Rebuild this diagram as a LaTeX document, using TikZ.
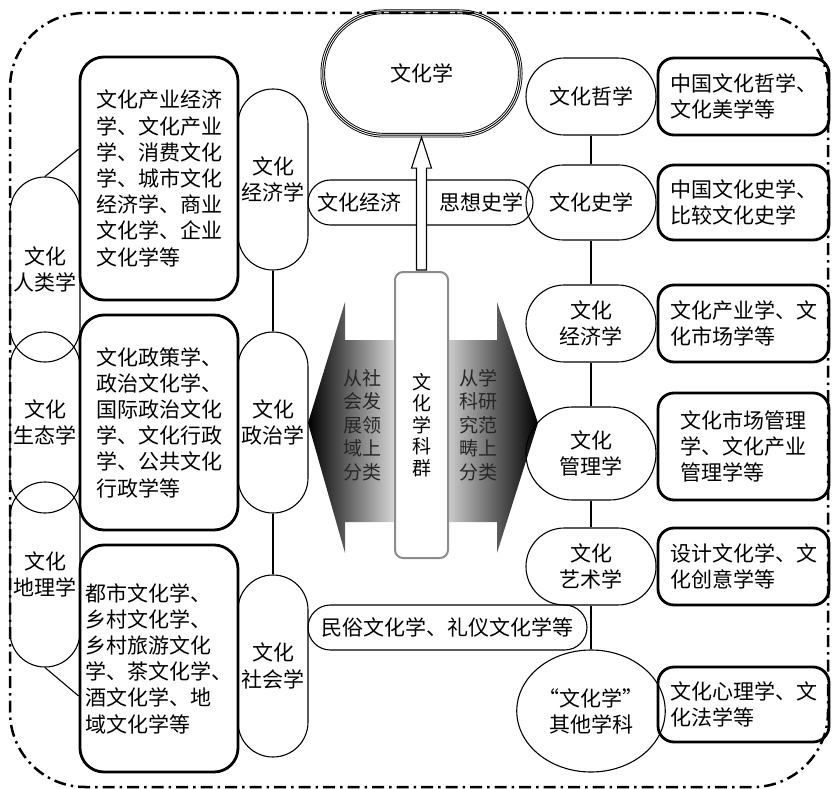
\documentclass[tikz,border=0pt]{standalone}
\usepackage{fontspec}
\newfontfamily\cjk{Noto Sans CJK SC}
\usetikzlibrary{shapes.geometric,calc}
\begin{document}
\begin{tikzpicture}[x=1pt,y=-1pt,
  every node/.style={font=\cjk\fontsize{21}{26.2}\selectfont, inner sep=0pt},
  bigbox/.style={draw, line width=2.8pt, rounded corners=24pt, align=left},
  rbox/.style={draw, line width=2.8pt, rounded corners=16pt, align=left, minimum width=171pt},
  pill/.style={draw, line width=1.1pt, align=center},
  conn/.style={line width=1.1pt},
  ]
\useasboundingbox (0,0) rectangle (833,789);

% gradient arrows
\shade[left color=black, right color=black!15]
  (395,340) -- (345,340) -- (345,302) -- (308,423) -- (345,553) -- (345,522) -- (395,522) -- cycle;
\shade[left color=black!20, right color=black]
  (448,340) -- (497,340) -- (497,302) -- (538,423) -- (497,553) -- (497,522) -- (448,522) -- cycle;

% top node
\node[minimum width=197pt, minimum height=123pt] (wh) at (421.5,73.5) {文化学};
\draw[line width=4.6pt, rounded corners=61pt] (wh.north west) rectangle (wh.south east);
\draw[line width=2.8pt, white, rounded corners=61pt] (wh.north west) rectangle (wh.south east);
\draw[line width=0.9pt, rounded corners=61pt] (wh.north west) rectangle (wh.south east);

% left column
\node[pill, minimum width=70pt, minimum height=181pt, rounded corners=34.9pt] (ljj) at (273,179.5) {文化\\经济学};
\node[pill, minimum width=70pt, minimum height=181pt, rounded corners=34.9pt] (lzz) at (273,422.5) {文化\\政治学};
\node[pill, minimum width=70pt, minimum height=182pt, rounded corners=34.9pt] (lsh) at (273,666) {文化\\社会学};
\draw[conn] (ljj.south) -- (lzz.north);
\draw[conn] (lzz.south) -- (lsh.north);

% far left
\node[pill, minimum width=70pt, minimum height=185pt, rounded corners=34.9pt] (frl) at (45,269.5) {文化\\人类学};
\node[pill, minimum width=70pt, minimum height=181pt, rounded corners=34.9pt] (fst) at (45,422.5) {文化\\生态学};
\node[pill, minimum width=70pt, minimum height=185pt, rounded corners=34.9pt] (fdl) at (45,574.5) {文化\\地理学};

% left boxes
\node[bigbox, minimum width=158pt, minimum height=243pt] (lb1) at (159,178.5)
  {文化产业经济\\学、文化产业\\学、消费文化\\学、城市文化\\经济学、商业\\文化学、企业\\文化学等};
\node[bigbox, minimum width=158pt, minimum height=215pt] (lb2) at (159,422.5)
  {文化政策学、\\政治文化学、\\国际政治文化\\学、文化行政\\学、公共文化\\行政学等};
\node[bigbox, minimum width=158pt, minimum height=227pt] (lb3) at (159,658.5)
  {都市文化学、\\乡村文化学、\\乡村旅游文化\\学、茶文化学、\\酒文化学、地\\域文化学等};

\draw[conn] (frl.north) -- (lb1.160);
\draw[conn] (fdl.south) -- (lb3.205);

% horizontal pills
\node[pill, minimum width=225pt, minimum height=45pt, rounded corners=22.4pt] (sx) at (420.5,202.5) {文化经济\hspace{39pt}思想史学};
\node[pill, minimum width=279pt, minimum height=45pt, rounded corners=22.4pt] (ms) at (447.5,627.5) {民俗文化学、礼仪文化学等};

% right column
\node[pill, minimum width=130pt, minimum height=77pt, rounded corners=38.4pt] (rzx) at (591,96.5) {文化哲学};
\node[pill, minimum width=130pt, minimum height=75pt, rounded corners=37.4pt] (rsx) at (591,202.5) {文化史学};
\node[pill, minimum width=130pt, minimum height=77pt, rounded corners=38.4pt] (rjj) at (591,323.5) {文化\\经济学};
\node[pill, minimum width=130pt, minimum height=93pt, rounded corners=46.4pt] (rgl) at (591,453.5) {文化\\管理学};
\node[pill, minimum width=130pt, minimum height=77pt, rounded corners=38.4pt] (rys) at (591,566.5) {文化\\艺术学};
\node[pill, ellipse, minimum width=130pt, minimum height=122pt] (rqt) at (591,711) {“文化学”\\其他学科};

\draw[conn] (rzx.south) -- (rsx.north);
\draw[conn] (rsx.south) -- (rjj.north);
\draw[conn] (rjj.south) -- (rgl.north);
\draw[conn] (rgl.south) -- (rys.north);
\draw[conn] (rys.south) -- (rqt.north);

% right boxes
\node[rbox, minimum height=77pt] (rb1) at (743.5,96.5) {中国文化哲学、\\文化美学等};
\node[rbox, minimum height=75pt] (rb2) at (743.5,202.5) {中国文化史学、\\比较文化史学};
\node[rbox, minimum height=77pt] (rb3) at (743.5,323.5) {文化产业学、文\\化市场学等};
\node[rbox, minimum height=107pt] (rb4) at (743.5,446.5) {文化市场管理\\学、文化产业\\管理学等};
\node[rbox, minimum height=77pt] (rb5) at (743.5,566.5) {设计文化学、文\\化创意学等};
\node[rbox, minimum height=75pt] (rb6) at (743.5,704.5) {文化心理学、文\\化法学等};

% central box
\node[draw=black!45, line width=2pt, rounded corners=8pt, fill=white, minimum width=53pt, minimum height=286pt] (kq) at (421.5,415) {};
\node[align=center, font=\cjk\fontsize{19}{21.5}\selectfont] (kqt) at (421.5,425) {文\\化\\学\\科\\群};
\node[align=center, text=black!85, font=\cjk\fontsize{19}{23.5}\selectfont] (la) at (362,425) {从社\\会发\\展领\\域上\\分类};
\node[align=center, text=black!85, font=\cjk\fontsize{19}{23.5}\selectfont] (ra) at (478,425) {从学\\科研\\究范\\畴上\\分类};

% hollow arrow
\draw[fill=white, line width=1.1pt]
  ($(kq.north)+(-5,-1)$) -- ($(wh.south)+(-5,33)$) -- ($(wh.south)+(-10,33)$) -- ($(wh.south)+(0,2)$)
  -- ($(wh.south)+(10,33)$) -- ($(wh.south)+(5,33)$) -- ($(kq.north)+(5,-1)$) -- cycle;

% outer border
\draw[line width=2.5pt, dash pattern=on 12pt off 5pt on 2.5pt off 5pt, rounded corners=75pt]
  (10,13) rectangle (828,787);
\end{tikzpicture}
\end{document}
